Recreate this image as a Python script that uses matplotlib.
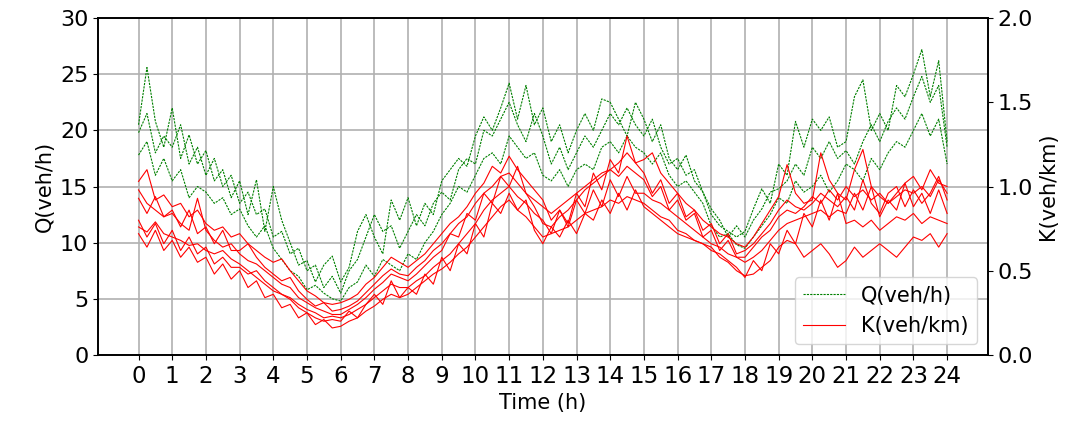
import numpy as np
import matplotlib
matplotlib.use('Agg')
import matplotlib.pyplot as plt

# --- 时间轴 (每 15 分钟一个点) ---
hours = np.arange(0, 24.01, 0.25)
xticks = list(range(0, 25))

# --- 流量 Q (veh/h)，三天 ---
q_day1 = [20.5, 25.6, 20.8, 18.5, 22.0, 17.5, 19.6, 17.0, 18.2, 15.5, 16.5, 14.0,
          15.5, 12.5, 15.6, 11.0, 15.0, 12.0, 10.0, 8.0, 8.4, 6.5, 8.0, 8.8,
          6.5, 7.8, 11.0, 12.5, 10.5, 9.0, 13.8, 12.0, 14.0, 11.5, 13.5, 12.5,
          15.5, 16.5, 17.5, 16.8, 19.5, 21.2, 20.0, 22.0, 24.2, 21.0, 24.0, 20.5,
          22.0, 19.0, 20.5, 18.0, 20.0, 21.5, 20.0, 22.8, 22.5, 21.0, 19.5, 22.5,
          21.0, 19.0, 20.5, 17.5, 16.5, 17.8, 15.5, 14.5, 12.5, 11.5, 11.0, 10.5,
          11.0, 13.0, 14.8, 13.5, 17.0, 16.0, 20.8, 18.5, 21.0, 20.0, 21.2, 18.5,
          19.0, 23.0, 24.5, 20.0, 21.5, 20.0, 24.0, 23.0, 25.0, 27.2, 23.0, 26.2,
          19.0]
q_day2 = [19.8, 21.5, 18.0, 19.5, 18.5, 20.5, 17.0, 18.5, 16.0, 17.5, 15.0, 16.0,
          13.5, 14.5, 12.5, 13.0, 10.5, 11.0, 9.0, 9.5, 7.5, 8.0, 6.0, 7.0,
          5.5, 7.5, 8.5, 10.5, 12.5, 11.0, 11.5, 9.5, 11.0, 12.5, 11.5, 13.5,
          14.5, 13.8, 16.5, 17.5, 17.0, 20.0, 19.5, 21.0, 22.5, 20.5, 19.0, 21.5,
          19.5, 17.0, 18.5, 16.5, 18.0, 19.5, 18.5, 20.0, 21.5, 20.5, 22.0, 20.5,
          19.5, 21.0, 18.5, 17.0, 17.5, 16.0, 16.5, 14.5, 13.0, 12.0, 10.5, 11.5,
          10.5, 12.0, 13.0, 14.5, 14.8, 15.5, 17.0, 16.0, 18.5, 17.5, 19.0, 17.5,
          18.2, 17.0, 19.0, 20.5, 19.0, 20.8, 22.0, 21.0, 23.0, 24.8, 22.5, 24.0,
          18.5]
q_day3 = [17.8, 19.0, 16.0, 17.5, 15.5, 16.5, 14.0, 15.0, 14.5, 13.5, 14.0, 12.5,
          13.0, 11.5, 10.5, 11.5, 9.5, 8.5, 7.5, 7.0, 5.8, 6.2, 5.5, 5.0,
          4.8, 6.0, 6.5, 8.0, 7.0, 8.5, 8.0, 7.5, 9.0, 8.5, 10.0, 11.0,
          12.5, 13.5, 15.0, 14.5, 16.0, 17.5, 18.0, 17.0, 19.5, 18.5, 17.5, 18.0,
          16.0, 15.5, 16.5, 15.0, 16.5, 17.0, 16.5, 18.5, 19.0, 18.0, 19.5, 18.5,
          18.0, 17.0, 18.0, 16.0, 15.0, 15.5, 14.5, 13.5, 11.5, 10.5, 10.8, 9.8,
          9.5, 10.5, 11.5, 12.5, 14.0, 13.5, 15.5, 14.5, 15.0, 16.0, 14.5, 15.5,
          17.0, 16.5, 15.5, 17.5, 16.5, 18.0, 19.0, 18.5, 20.0, 21.5, 19.5, 21.0,
          17.0]

# --- 密度 K (veh/km)，六天 ---
k_day1 = [1.03, 1.10, 0.92, 0.95, 0.88, 0.90, 0.82, 0.86, 0.78, 0.74, 0.76, 0.70,
          0.72, 0.66, 0.62, 0.58, 0.55, 0.57, 0.50, 0.44, 0.38, 0.35, 0.31, 0.30,
          0.31, 0.33, 0.36, 0.42, 0.46, 0.52, 0.58, 0.55, 0.52, 0.56, 0.60, 0.66,
          0.72, 0.78, 0.82, 0.88, 0.96, 1.02, 1.12, 1.08, 1.18, 1.10, 1.04, 0.98,
          0.92, 0.80, 0.86, 0.78, 0.96, 0.88, 1.08, 0.98, 1.16, 1.08, 1.30, 1.14,
          1.16, 1.20, 1.08, 1.02, 0.96, 0.90, 0.86, 0.80, 0.76, 0.72, 0.70, 0.66,
          0.64, 0.70, 0.78, 0.86, 0.94, 1.13, 0.96, 0.90, 0.92, 1.20, 1.04, 0.96,
          0.92, 1.10, 1.22, 1.00, 0.94, 0.90, 0.96, 1.02, 1.06, 0.98, 1.10, 1.02,
          1.00]
k_day2 = [0.93, 0.84, 0.94, 0.82, 0.86, 0.76, 0.86, 0.72, 0.76, 0.66, 0.74, 0.62,
          0.62, 0.66, 0.58, 0.52, 0.48, 0.44, 0.46, 0.38, 0.33, 0.29, 0.31, 0.26,
          0.27, 0.29, 0.32, 0.37, 0.42, 0.47, 0.51, 0.48, 0.47, 0.52, 0.56, 0.62,
          0.66, 0.72, 0.78, 0.82, 0.90, 0.96, 1.00, 1.06, 1.08, 1.02, 0.96, 0.92,
          0.88, 0.84, 0.88, 0.92, 0.96, 1.00, 1.04, 1.08, 1.10, 1.06, 1.12, 1.08,
          1.04, 0.94, 1.00, 0.86, 0.92, 0.80, 0.84, 0.70, 0.74, 0.62, 0.68, 0.58,
          0.58, 0.64, 0.70, 0.74, 0.82, 0.86, 0.84, 0.88, 0.94, 0.90, 0.98, 0.92,
          1.00, 0.94, 0.98, 0.92, 0.96, 0.90, 0.94, 0.98, 0.96, 1.00, 0.94, 1.04,
          0.96]
k_day3 = [0.80, 0.70, 0.78, 0.66, 0.74, 0.62, 0.70, 0.60, 0.64, 0.54, 0.58, 0.52,
          0.52, 0.48, 0.50, 0.44, 0.40, 0.36, 0.34, 0.30, 0.27, 0.25, 0.22, 0.23,
          0.22, 0.24, 0.27, 0.30, 0.34, 0.38, 0.42, 0.40, 0.40, 0.44, 0.47, 0.52,
          0.56, 0.60, 0.66, 0.72, 0.78, 0.86, 0.92, 0.96, 1.00, 0.94, 0.90, 0.84,
          0.80, 0.72, 0.86, 0.76, 0.92, 0.84, 0.98, 0.88, 1.04, 0.94, 1.06, 0.96,
          0.96, 0.92, 0.90, 0.86, 0.82, 0.78, 0.74, 0.70, 0.66, 0.64, 0.60, 0.58,
          0.55, 0.58, 0.62, 0.68, 0.74, 0.78, 0.80, 0.82, 0.84, 0.86, 0.82, 0.86,
          0.84, 0.96, 0.86, 1.00, 0.82, 0.92, 0.86, 1.02, 0.88, 0.96, 0.84, 0.98,
          0.84]
k_day4 = [0.72, 0.64, 0.74, 0.62, 0.68, 0.58, 0.64, 0.55, 0.58, 0.48, 0.54, 0.45,
          0.50, 0.40, 0.44, 0.34, 0.36, 0.28, 0.30, 0.22, 0.25, 0.18, 0.21, 0.16,
          0.17, 0.20, 0.22, 0.26, 0.29, 0.33, 0.36, 0.34, 0.36, 0.40, 0.44, 0.48,
          0.51, 0.55, 0.60, 0.64, 0.70, 0.76, 0.82, 0.88, 0.92, 0.86, 0.82, 0.76,
          0.70, 0.72, 0.74, 0.76, 0.80, 0.84, 0.86, 0.88, 0.92, 0.90, 0.94, 0.92,
          0.90, 0.86, 0.82, 0.80, 0.74, 0.72, 0.68, 0.66, 0.62, 0.60, 0.56, 0.52,
          0.46, 0.56, 0.50, 0.66, 0.60, 0.74, 0.66, 0.84, 0.76, 0.92, 0.80, 0.96,
          0.78, 0.80, 0.76, 0.80, 0.74, 0.78, 0.82, 0.80, 0.84, 0.78, 0.82, 0.80,
          0.78]
k_day5 = [0.76, 0.73, 0.79, 0.72, 0.70, 0.68, 0.65, 0.66, 0.62, 0.60, 0.62, 0.57,
          0.54, 0.50, 0.46, 0.42, 0.38, 0.36, 0.33, 0.28, 0.25, 0.22, 0.20, 0.21,
          0.20, 0.26, 0.22, 0.30, 0.36, 0.30, 0.44, 0.34, 0.40, 0.36, 0.48, 0.42,
          0.58, 0.50, 0.66, 0.60, 0.78, 0.70, 0.90, 0.84, 0.96, 0.86, 0.92, 0.74,
          0.66, 0.76, 0.70, 0.80, 0.72, 0.84, 0.80, 0.92, 0.84, 0.96, 0.86, 0.98,
          0.88, 0.84, 0.80, 0.76, 0.72, 0.70, 0.68, 0.66, 0.64, 0.58, 0.55, 0.50,
          0.47, 0.48, 0.52, 0.56, 0.64, 0.68, 0.66, 0.58, 0.62, 0.66, 0.60, 0.52,
          0.56, 0.64, 0.58, 0.62, 0.66, 0.62, 0.58, 0.64, 0.70, 0.68, 0.72, 0.64,
          0.72]
k_day6 = [0.98, 0.90, 0.86, 0.82, 0.84, 0.78, 0.74, 0.93, 0.74, 0.68, 0.64, 0.66,
          0.60, 0.56, 0.54, 0.50, 0.46, 0.42, 0.40, 0.34, 0.31, 0.28, 0.26, 0.24,
          0.24, 0.27, 0.30, 0.34, 0.39, 0.43, 0.48, 0.46, 0.44, 0.48, 0.53, 0.58,
          0.62, 0.72, 0.70, 0.84, 0.80, 0.96, 0.90, 1.06, 1.00, 1.12, 0.96, 0.88,
          0.78, 0.76, 0.82, 0.86, 0.92, 0.98, 1.02, 1.06, 1.10, 1.14, 1.20, 1.14,
          1.08, 0.96, 1.04, 0.90, 0.96, 0.82, 0.86, 0.74, 0.78, 0.66, 0.72, 0.60,
          0.62, 0.66, 0.72, 0.78, 0.86, 0.92, 0.88, 0.86, 0.90, 0.96, 0.92, 0.88,
          0.94, 0.86, 1.04, 0.90, 0.84, 0.96, 1.00, 0.88, 0.98, 0.90, 0.96, 1.06,
          0.92]

q_series = [q_day1, q_day2, q_day3]
k_series = [k_day1, k_day2, k_day3, k_day4, k_day5, k_day6]

FONT_SIZE = 15

fig = plt.figure(figsize=(10.9, 4.21), dpi=100)
ax = fig.add_axes([0.09, 0.157, 0.816, 0.8])
ax2 = ax.twinx()

for i, q in enumerate(q_series):
    ax.plot(hours, q, color='green', linestyle=(0, (2, 1)), linewidth=0.8,
            label='Q(veh/h)' if i == 0 else None)
for i, k in enumerate(k_series):
    ax2.plot(hours, k, color='red', linewidth=0.8,
             label='K(veh/km)' if i == 0 else None)

ax.set_ylim(0, 30)
ax2.set_ylim(0, 2.0)
ax.set_yticks([0, 5, 10, 15, 20, 25, 30])
ax2.set_yticks([0.0, 0.5, 1.0, 1.5, 2.0])
ax.set_xticks(xticks)
ax.grid(True, color='#b0b0b0', linewidth=1.2)

ax.set_xlabel('Time (h)', fontsize=FONT_SIZE)
ax.set_ylabel('Q(veh/h)', fontsize=FONT_SIZE)
ax2.set_ylabel('K(veh/km)', fontsize=FONT_SIZE)
ax.tick_params(axis='x', labelsize=16.5)
ax.tick_params(axis='y', labelsize=16)
ax2.tick_params(axis='y', labelsize=16)
for a in (ax, ax2):
    for s in a.spines.values():
        s.set_linewidth(1.2)

h1, l1 = ax.get_legend_handles_labels()
h2, l2 = ax2.get_legend_handles_labels()
ax2.legend(h1 + h2, l1 + l2, loc='lower right', fontsize=FONT_SIZE)

fig.savefig('out.png', dpi=100)
